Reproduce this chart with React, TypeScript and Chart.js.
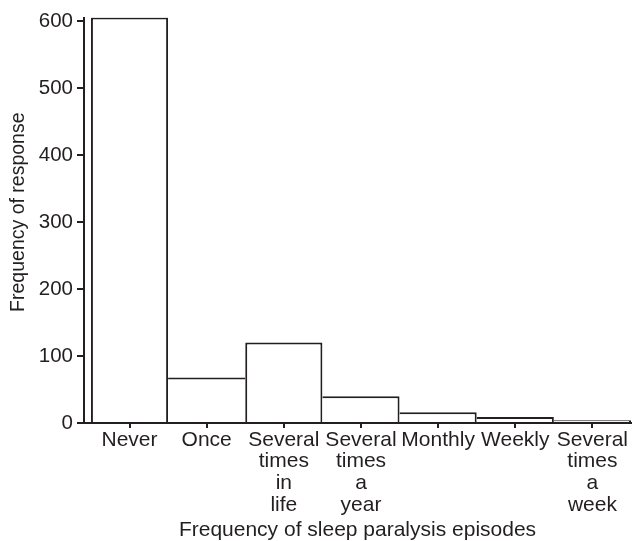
import { useEffect, useRef } from 'react';
import { Chart, registerables } from 'chart.js';

Chart.register(...registerables);

const categories: (string | string[])[] = [
  'Never',
  'Once',
  ['Several', 'times', 'in', 'life'],
  ['Several', 'times', 'a', 'year'],
  'Monthly',
  'Weekly',
  ['Several', 'times', 'a', 'week'],
];
const responses = [605, 68, 120, 40, 16, 9, 4];
const yTickValues = [0, 100, 200, 300, 400, 500, 600];
const xTitle = 'Frequency of sleep paralysis episodes';
const yTitle = 'Frequency of response';

const INK = '#231f20';
const FONT = "'Liberation Sans', Arial, Helvetica, sans-serif";
const LW = 2;

export default function App() {
  const ref = useRef<HTMLCanvasElement>(null);

  useEffect(() => {
    const n = categories.length;
    const chart = new Chart(ref.current as HTMLCanvasElement, {
      type: 'bar',
      data: {
        datasets: [
          {
            data: responses.map((v, i) => ({ x: i + 0.5, y: v })),
            backgroundColor: '#ffffff',
            borderColor: INK,
            borderWidth: (ctx: any) => {
              const i = ctx.dataIndex;
              const left = i === 0 || responses[i - 1] < responses[i] ? LW : 0;
              const right = i === n - 1 || responses[i + 1] < responses[i] ? LW : 0;
              return { top: LW, left, right, bottom: 0 };
            },
            inflateAmount: 0,
            barPercentage: 1,
            categoryPercentage: 1,
          } as any,
        ],
      },
      options: {
        animation: false,
        responsive: false,
        layout: { padding: { top: 17.6, right: 6, bottom: 0, left: 0 } },
        plugins: {
          legend: { display: false },
          tooltip: { enabled: false },
        },
        scales: {
          x: {
            type: 'linear',
            bounds: 'data',
            offset: false,
            min: -0.09,
            max: 7,
            afterBuildTicks: (s: any) => {
              s.ticks = categories.map((_, i) => ({ value: i + 0.5 }));
            },
            afterFit: (s: any) => {
              s.height = 118;
            },
            border: { display: true, color: INK, width: LW },
            grid: {
              offset: false,
              drawOnChartArea: false,
              drawTicks: true,
              tickLength: 5,
              color: INK,
              lineWidth: LW,
            },
            ticks: {
              color: INK,
              font: { family: FONT, size: 21, lineHeight: 1.035 },
              padding: 1,
              maxRotation: 0,
              minRotation: 0,
              autoSkip: false,
              callback: (_v: any, i: number) => categories[i] as any,
            },
            title: {
              display: true,
              text: xTitle,
              color: INK,
              font: { family: FONT, size: 21, lineHeight: 1 },
              padding: { top: 5, bottom: 0 },
            },
          } as any,
          y: {
            type: 'linear',
            bounds: 'data',
            min: 0,
            max: 605,
            afterBuildTicks: (s: any) => {
              s.ticks = yTickValues.map((v) => ({ value: v }));
            },
            afterFit: (s: any) => {
              s.width = 84;
            },
            border: { display: true, color: INK, width: LW },
            grid: {
              drawOnChartArea: false,
              drawTicks: true,
              tickLength: 7,
              color: INK,
              lineWidth: LW,
            },
            ticks: {
              color: INK,
              font: { family: FONT, size: 20.5 },
              padding: 4,
            },
            title: {
              display: true,
              text: '   ' + yTitle,
              color: INK,
              font: { family: FONT, size: 19.5, lineHeight: 1.2 },
              padding: { top: 6.5, bottom: 0 },
            },
          } as any,
        },
      },
    });
    return () => chart.destroy();
  }, []);

  return (
    <div style={{ position: 'absolute', left: 0, top: 0, width: 637, height: 541, background: '#fff' }}>
      <canvas ref={ref} width={637} height={541} style={{ display: 'block' }} />
    </div>
  );
}
